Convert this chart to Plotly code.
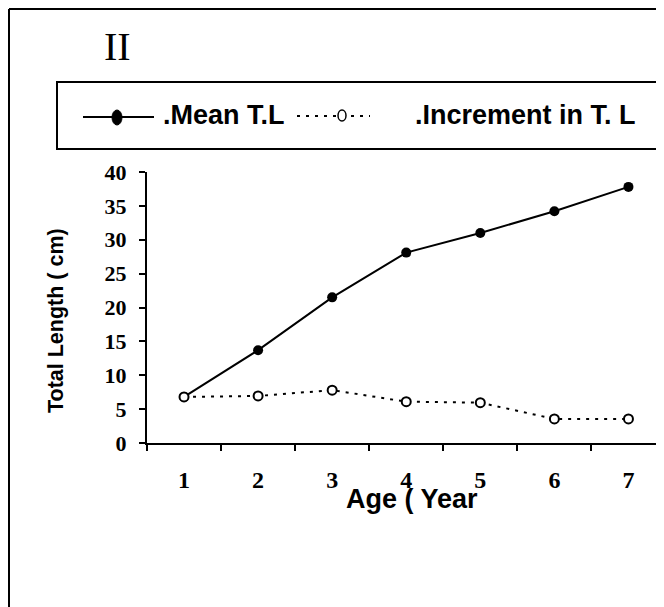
import plotly.graph_objects as go

# ---- data ----
ages = ["1", "2", "3", "4", "5", "6", "7"]
mean_tl = [6.8, 13.7, 21.5, 28.1, 31.0, 34.2, 37.8]
increment_tl = [6.8, 6.95, 7.8, 6.1, 5.95, 3.55, 3.55]
y_ticks = [0, 5, 10, 15, 20, 25, 30, 35, 40]

# page offset (browser body margin)
OFF = 8
W, H = 664 - OFF, 607 - OFF
L, R, T, B = 147 - OFF, 0, 172 - OFF, 164
PW, PH = W - L - R, H - T - B


def px(p):
    # page pixel x -> paper coordinate
    return (p - OFF - L) / PW


def py(q):
    # page pixel y -> paper coordinate
    return (H - B - (q - OFF)) / PH


SANS = "Liberation Sans"
SERIF = "Liberation Serif"

fig = go.Figure()
fig.add_trace(go.Scatter(
    x=ages, y=mean_tl, name=".Mean T.L", mode="lines+markers",
    line=dict(color="black", width=2),
    marker=dict(color="black", size=10),
    cliponaxis=False,
))
fig.add_trace(go.Scatter(
    x=ages, y=increment_tl, name=".Increment in T. L", mode="lines+markers",
    line=dict(color="black", width=2, dash="3px,6px"),
    marker=dict(color="white", size=9, line=dict(color="black", width=2)),
    cliponaxis=False,
))

shapes = [
    # outer frame (left and top sides visible)
    dict(type="line", xref="paper", yref="paper", x0=px(9), x1=px(680), y0=py(9), y1=py(9),
         line=dict(color="black", width=2)),
    dict(type="line", xref="paper", yref="paper", x0=px(9), x1=px(9), y0=py(9), y1=py(620),
         line=dict(color="black", width=2)),
    # legend box
    dict(type="rect", xref="paper", yref="paper", x0=px(57), x1=px(659), y0=py(82), y1=py(149),
         line=dict(color="black", width=2), fillcolor="rgba(0,0,0,0)"),
    # legend symbol 1
    dict(type="line", xref="paper", yref="paper", x0=px(83), x1=px(154), y0=py(117), y1=py(117),
         line=dict(color="black", width=2)),
    dict(type="circle", xref="paper", yref="paper", x0=px(112), x1=px(122), y0=py(110), y1=py(125),
         line=dict(color="black", width=1), fillcolor="black"),
    # legend symbol 2
    dict(type="line", xref="paper", yref="paper", x0=px(297), x1=px(370), y0=py(116), y1=py(116),
         line=dict(color="black", width=2, dash="3px,6px")),
    dict(type="circle", xref="paper", yref="paper", x0=px(338), x1=px(346), y0=py(110), y1=py(121),
         line=dict(color="black", width=1.5), fillcolor="white"),
]

annotations = [
    dict(text=".Mean T.L", xref="paper", yref="paper", x=px(161), y=py(115),
         xanchor="left", yanchor="middle", showarrow=False,
         font=dict(family=SANS, size=27, color="black", weight="bold")),
    dict(text=".Increment in T. L", xref="paper", yref="paper", x=px(413), y=py(115),
         xanchor="left", yanchor="middle", showarrow=False,
         font=dict(family=SANS, size=27, color="black", weight="bold")),
    dict(text="Total Length ( cm)", xref="paper", yref="paper", x=px(56), y=py(321),
         xanchor="center", yanchor="middle", textangle=-90, showarrow=False,
         font=dict(family=SANS, size=21.5, color="black", weight="bold")),
    dict(text="Age ( Year", xref="paper", yref="paper", x=px(412), y=py(499),
         xanchor="center", yanchor="middle", showarrow=False,
         font=dict(family=SANS, size=27, color="black", weight="bold")),
]

fig.update_layout(
    width=W, height=H,
    margin=dict(l=L, r=R, t=T, b=B, pad=0),
    paper_bgcolor="white", plot_bgcolor="white",
    showlegend=False,
    title=dict(text="II", xref="container", yref="container", x=(104 - OFF) / W, xanchor="left",
               y=1 - (46 - OFF) / H, yanchor="middle",
               font=dict(family=SERIF, size=40, color="black")),
    shapes=shapes,
    annotations=annotations,
    xaxis=dict(
        type="category", categoryorder="array", categoryarray=ages,
        range=[-0.5, 6.48], tickson="boundaries",
        showline=True, linecolor="black", linewidth=2,
        ticks="outside", ticklen=6, tickwidth=2, tickcolor="black",
        showgrid=False, zeroline=False,
        tickfont=dict(family=SERIF, size=24, color="black", weight="bold"),
        ticklabelstandoff=14,
    ),
    yaxis=dict(
        range=[0, 40], tickvals=y_ticks,
        showline=True, linecolor="black", linewidth=2,
        ticks="outside", ticklen=6, tickwidth=2, tickcolor="black",
        showgrid=False, zeroline=False,
        tickfont=dict(family=SERIF, size=22, color="black", weight="bold"),
        ticklabelstandoff=8,
    ),
)

fig.write_html("out.html")
